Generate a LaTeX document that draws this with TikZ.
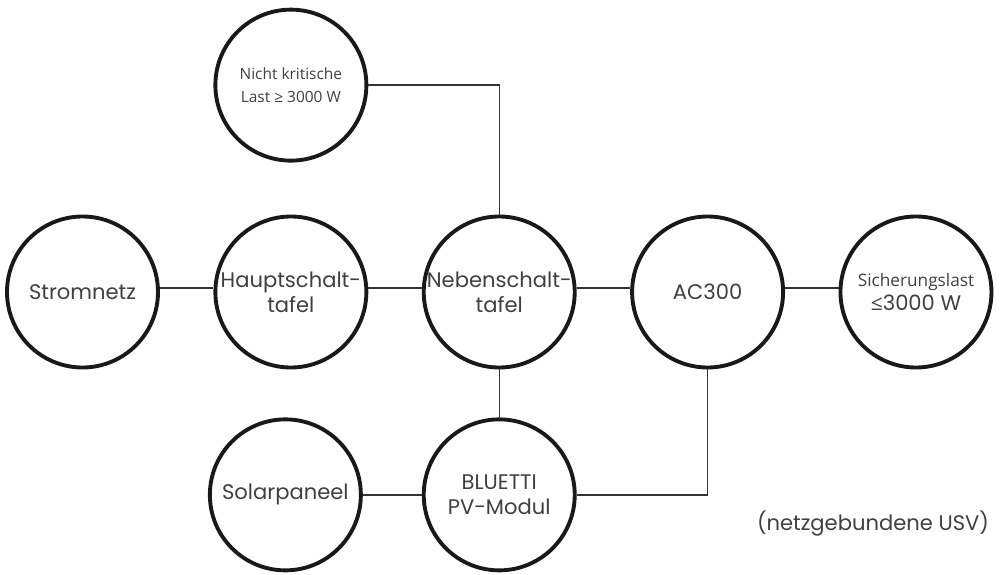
\documentclass[tikz,border=0pt]{standalone}
\usepackage{fontspec}
\setmainfont{Poppins}
\newfontfamily\opensans{Open Sans}
\usetikzlibrary{positioning}

\tikzset{
  unit/.style={circle, draw=black!90, line width=2.2pt, minimum size=3.02cm,
    inner sep=0pt, align=center, text=black!75,
    font=\fontsize{12}{14.2}\selectfont},
  wire/.style={line width=0.75pt, draw=black!80},
}

\begin{document}
\begin{tikzpicture}
  \useasboundingbox (0,0) rectangle (20.04,11.48);

  % main row
  \node[unit] (netz) at (1.65,5.64) {Stromnetz};
  \node[unit, right=1.07cm of netz] (haupt) {Hauptschalt-\\tafel};
  \node[unit, right=1.07cm of haupt] (neben) {Nebenschalt-\\tafel};
  \node[unit, right=1.07cm of neben] (ac) {AC300};
  \node[unit, right=1.07cm of ac] (sicher) {{\opensans\fontsize{9.8}{14}\selectfont Sicherungslast}\\{\opensans ≤}3000 W};

  % top and bottom
  \node[unit, above=1.04cm of haupt, font=\opensans\fontsize{8.8}{13.5}\selectfont] (nichtkrit) {Nicht kritische\\Last ≥ 3000 W};
  \node[unit, below=0.96cm of neben] (bluetti) {BLUETTI\\PV-Modul};
  \node[unit, left=1.18cm of bluetti] (solar) {Solarpaneel};
  \node[text=black!75, font=\fontsize{12}{14}\selectfont] (usv) at (17.46,1.02) {(netzgebundene USV)};

  % connections
  \draw[wire] ([yshift=2.3pt]netz.east) -- ([yshift=2.3pt]haupt.west);
  \draw[wire] ([yshift=2.3pt]haupt.east) -- ([yshift=2.3pt]neben.west);
  \draw[wire] ([yshift=2.3pt]neben.east) -- ([yshift=2.3pt]ac.west);
  \draw[wire] ([yshift=2.3pt]ac.east) -- ([yshift=2.3pt]sicher.west);
  \draw[wire] (nichtkrit.east) -| (neben.north);
  \draw[wire] (neben.south) -- (bluetti.north);
  \draw[wire] (solar.east) -- (bluetti.west);
  \draw[wire] (bluetti.east) -| (ac.south);
\end{tikzpicture}
\end{document}
